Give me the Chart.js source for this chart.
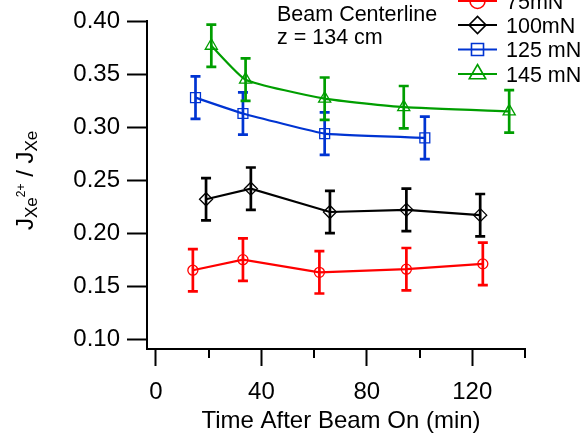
<!DOCTYPE html>
<html>
<head>
<meta charset="utf-8">
<script src="https://cdn.jsdelivr.net/npm/chart.js@4/dist/chart.umd.min.js"></script>
<style>
  html, body { margin: 0; padding: 0; background: #fff; }
  canvas { display: block; }
</style>
</head>
<body>
<canvas id="myChart" width="581" height="434"></canvas>
<script>
// data (time in min, flux ratio)
const seriesNames = ["75mN", "100mN", "125 mN", "145 mN"];
const time75 = [14, 33, 62, 95, 124];
const ratio75 = [0.165, 0.175, 0.163, 0.166, 0.171];
const time100 = [19, 36, 66, 95, 123];
const ratio100 = [0.232, 0.242, 0.220, 0.222, 0.217];
const time125 = [15, 33, 64, 102];
const ratio125 = [0.328, 0.313, 0.294, 0.290];
const time145 = [21, 34, 64, 94, 134];
const ratio145 = [0.377, 0.345, 0.327, 0.319, 0.315];
const err75 = [0.02, 0.02, 0.02, 0.02, 0.02];
const err100 = [0.02, 0.02, 0.02, 0.02, 0.02];
const err125 = [0.02, 0.02, 0.02, 0.02];
const err145 = [0.02, 0.02, 0.02, 0.02, 0.02];
const xTicks = [0, 20, 40, 60, 80, 100, 120, 140];
const yTicks = [0.10, 0.15, 0.20, 0.25, 0.30, 0.35, 0.40];

const RED = "rgb(255,0,0)";
const BLACK = "rgb(0,0,0)";
const BLUE = "rgb(0,52,210)";
const GREEN = "rgb(0,158,0)";
const FONT = "Liberation Sans, Arial, sans-serif";

function toPoints(xs, ys) {
  return xs.map(function (x, i) {
    return { x: x, y: ys[i] };
  });
}

function makeSet(label, xs, ys, errs, color, style, radius, tension) {
  return {
    label: label,
    data: toPoints(xs, ys),
    errors: errs,
    borderColor: color,
    backgroundColor: "rgba(0,0,0,0)",
    borderWidth: 2.2,
    pointStyle: style,
    pointRadius: radius,
    pointBorderWidth: 1.3,
    pointBorderColor: color,
    pointBackgroundColor: "rgba(0,0,0,0)",
    tension: tension,
    clip: false,
  };
}

// error bars with caps
const errorBars = {
  id: "errorBars",
  afterDatasetsDraw(chart) {
    const c = chart.ctx;
    const y = chart.scales.y;
    chart.data.datasets.forEach(function (ds, i) {
      const meta = chart.getDatasetMeta(i);
      c.save();
      c.strokeStyle = ds.borderColor;
      c.lineWidth = 2.7;
      meta.data.forEach(function (pt, j) {
        const v = ds.data[j].y;
        const e = ds.errors[j];
        const top = y.getPixelForValue(v + e);
        const bot = y.getPixelForValue(v - e);
        c.beginPath();
        c.moveTo(pt.x, top);
        c.lineTo(pt.x, bot);
        c.moveTo(pt.x - 5, top);
        c.lineTo(pt.x + 5, top);
        c.moveTo(pt.x - 5, bot);
        c.lineTo(pt.x + 5, bot);
        c.stroke();
      });
      c.restore();
    });
  },
};

// minor ticks, axis titles, annotation and legend
const decorations = {
  id: "decorations",
  afterDraw(chart) {
    const c = chart.ctx;
    const x = chart.scales.x;
    const base = chart.chartArea.bottom;
    c.save();
    c.strokeStyle = BLACK;
    c.lineWidth = 2;
    xTicks.forEach(function (t) {
      if (t % 40 !== 0) {
        const px = Math.round(x.getPixelForValue(t));
        c.beginPath();
        c.moveTo(px, base);
        c.lineTo(px, base + 9);
        c.stroke();
      }
    });

    c.fillStyle = BLACK;
    c.textBaseline = "alphabetic";
    c.textAlign = "center";
    c.font = "24px " + FONT;
    c.fillText("Time After Beam On (min)", 341, 428);

    // y title with sub/superscripts
    c.save();
    c.translate(33, 230);
    c.rotate(-Math.PI / 2);
    c.textAlign = "left";
    let pos = 0;
    const parts = [
      ["J", 24, 0],
      ["Xe", 17, 4],
      ["2+", 12, -8],
      [" / J", 24, 0],
      ["Xe", 17, 4],
    ];
    parts.forEach(function (p) {
      c.font = p[1] + "px " + FONT;
      c.fillText(p[0], pos, p[2]);
      pos += c.measureText(p[0]).width;
    });
    c.restore();

    c.textAlign = "left";
    c.font = "21.5px " + FONT;
    c.fillText("Beam Centerline", 277, 21);
    c.fillText("z = 134 cm", 277, 44);

    // legend
    const rows = [
      [seriesNames[0], RED, "circle", 7.5, 1],
      [seriesNames[1], BLACK, "rectRot", 8.5, 25],
      [seriesNames[2], BLUE, "rect", 8.5, 49.5],
      [seriesNames[3], GREEN, "triangle", 9.5, 74],
    ];
    rows.forEach(function (r) {
      c.strokeStyle = r[1];
      c.lineWidth = 2;
      c.beginPath();
      c.moveTo(458, r[4]);
      c.lineTo(497, r[4]);
      c.stroke();
      c.fillStyle = "rgba(0,0,0,0)";
      c.lineWidth = 1.6;
      Chart.helpers.drawPoint(c, { pointStyle: r[2], radius: r[3], borderWidth: 1.6 }, 477.5, r[4]);
      c.fillStyle = BLACK;
      c.font = "21.5px " + FONT;
      c.fillText(r[0], 506, r[4] + 7.5);
    });
    c.restore();
  },
};

let ctx = document.getElementById("myChart").getContext("2d");
let chart = new Chart(ctx, {
  type: "line",
  data: {
    datasets: [
      makeSet(seriesNames[0], time75, ratio75, err75, RED, "circle", 5, 0),
      makeSet(seriesNames[1], time100, ratio100, err100, BLACK, "rectRot", 6.5, 0),
      makeSet(seriesNames[2], time125, ratio125, err125, BLUE, "rect", 7, 0.1),
      makeSet(seriesNames[3], time145, ratio145, err145, GREEN, "triangle", 7, 0.15),
    ],
  },
  options: {
    responsive: false,
    animation: false,
    devicePixelRatio: 1,
    layout: { padding: { top: 19, right: 56, left: 0, bottom: 0 } },
    plugins: {
      legend: { display: false },
      tooltip: { enabled: false },
    },
    scales: {
      x: {
        type: "linear",
        min: -3.4,
        max: 140,
        afterBuildTicks: function (scale) {
          scale.ticks = xTicks.map(function (v) { return { value: v }; });
        },
        afterFit: function (scale) { scale.height = 85; },
        grid: {
          drawOnChartArea: false,
          tickLength: 17,
          tickWidth: 2,
          color: function (c) {
            return c.tick && c.tick.value % 40 === 0 ? BLACK : "rgba(0,0,0,0)";
          },
        },
        border: { display: true, color: BLACK, width: 2 },
        ticks: {
          color: BLACK,
          padding: 12,
          maxRotation: 0,
          autoSkip: false,
          font: { family: FONT, size: 24 },
          callback: function (v) { return v % 40 === 0 ? String(v) : ""; },
        },
      },
      y: {
        type: "linear",
        min: 0.0906,
        max: 0.40,
        afterBuildTicks: function (scale) {
          scale.ticks = yTicks.map(function (v) { return { value: v }; });
        },
        afterFit: function (scale) { scale.width = 147; },
        grid: {
          drawOnChartArea: false,
          tickLength: 20,
          tickWidth: 2,
          color: BLACK,
        },
        border: { display: true, color: BLACK, width: 2 },
        ticks: {
          color: BLACK,
          padding: 7,
          autoSkip: false,
          font: { family: FONT, size: 24 },
          callback: function (v) { return v.toFixed(2); },
        },
      },
    },
  },
  plugins: [errorBars, decorations],
});
</script>
</body>
</html>
